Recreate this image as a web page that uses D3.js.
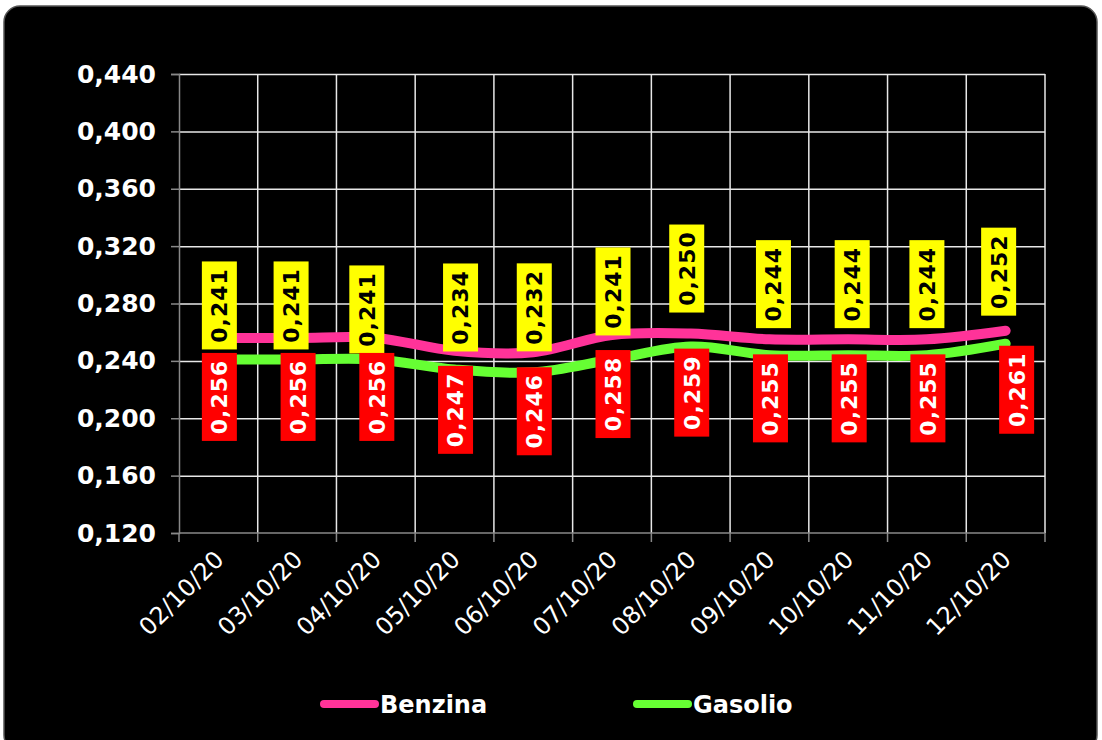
<!DOCTYPE html>
<html>
<head>
<meta charset="utf-8">
<script src="https://cdn.jsdelivr.net/npm/d3@7"></script>
<style>
  body { margin: 0; background: #fff; }
  svg { display: block; }
</style>
</head>
<body>
<script>
// values
const dates = ["02/10/20", "03/10/20", "04/10/20", "05/10/20", "06/10/20", "07/10/20",
               "08/10/20", "09/10/20", "10/10/20", "11/10/20", "12/10/20"];
const benzina = [0.256, 0.256, 0.256, 0.247, 0.246, 0.258, 0.259, 0.255, 0.255, 0.255, 0.261];
const gasolio = [0.241, 0.241, 0.241, 0.234, 0.232, 0.241, 0.250, 0.244, 0.244, 0.244, 0.252];
const yTicks = [0.120, 0.160, 0.200, 0.240, 0.280, 0.320, 0.360, 0.400, 0.440];

// hand-placed label nudges (pixels), as in the original sheet
const yellowDx = [1, -6, -9, 6, 1, 1, -4, 4, 4, 0, -7];
const yellowDy = [0, 0, 4, -8, -11, -14, -24, -17, -17, -17, -18];
const redDx = [1, 1, 1, 1, 1, 1, 1, 1, 1, 1, 11];

const width = 1102, height = 740;
const marginLeft = 179, marginRight = 57, marginTop = 74, marginBottom = 207;

const fmt = v => d3.format(".3f")(v).replace(".", ",");

const x = d3.scaleBand().domain(dates).range([marginLeft, width - marginRight]);
const y = d3.scaleLinear().domain([0.12, 0.44]).range([height - marginBottom, marginTop]);
const cx = d => x(d) + x.bandwidth() / 2;

const svg = d3.select("body").append("svg")
    .attr("width", width)
    .attr("height", height)
    .attr("viewBox", [0, 0, width, height]);

// black rounded panel
svg.append("rect")
    .attr("x", 4).attr("y", 6)
    .attr("width", 1093).attr("height", 745)
    .attr("rx", 16)
    .attr("fill", "#000")
    .attr("stroke", "#555")
    .attr("stroke-width", 1.5);

// horizontal grid
svg.append("g")
    .selectAll("line")
    .data(yTicks.slice(1))
    .join("line")
    .attr("x1", marginLeft).attr("x2", width - marginRight)
    .attr("y1", d => y(d) + 0.5).attr("y2", d => y(d) + 0.5)
    .attr("stroke", "#e8e8e8")
    .attr("stroke-width", 1.5);

// vertical grid at category boundaries
svg.append("g")
    .selectAll("line")
    .data(dates.slice(1).map(d => x(d)).concat([width - marginRight]))
    .join("line")
    .attr("x1", d => d).attr("x2", d => d)
    .attr("y1", marginTop).attr("y2", height - marginBottom)
    .attr("stroke", "#e8e8e8")
    .attr("stroke-width", 1.5);

// y axis
svg.append("g")
    .attr("transform", `translate(${marginLeft},0)`)
    .call(d3.axisLeft(y).tickValues(yTicks).tickFormat(fmt).tickSize(8).tickPadding(15))
    .call(g => g.select(".domain").attr("stroke", "#888").attr("stroke-width", 1.5))
    .call(g => g.selectAll(".tick line").attr("stroke", "#888").attr("stroke-width", 1.5))
    .call(g => g.selectAll(".tick text")
        .attr("fill", "#fff")
        .style("font", "bold 25px 'DejaVu Sans'"));

// x axis: ticks at band edges, labels at centres
const xg = svg.append("g")
    .attr("transform", `translate(0,${height - marginBottom})`);
xg.append("line")
    .attr("x1", marginLeft).attr("x2", width - marginRight)
    .attr("stroke", "#888").attr("stroke-width", 1.5);
xg.selectAll("line.tk")
    .data(dates.map(d => x(d)).concat([width - marginRight]))
    .join("line")
    .attr("class", "tk")
    .attr("x1", d => d).attr("x2", d => d)
    .attr("y1", 0).attr("y2", 9)
    .attr("stroke", "#888").attr("stroke-width", 1.5);
xg.selectAll("text")
    .data(dates)
    .join("text")
    .attr("transform", d => `translate(${cx(d) - 5},${16}) rotate(-45)`)
    .attr("text-anchor", "end")
    .attr("dy", "0.7em")
    .attr("fill", "#fff")
    .style("font", "24px 'DejaVu Sans'")
    .text(d => d);

// lines
const line = d3.line()
    .x((v, i) => cx(dates[i]))
    .y(v => y(v))
    .curve(d3.curveCatmullRom.alpha(0.5));

const series = [
    { name: "Benzina", values: benzina, color: "#ff3399" },
    { name: "Gasolio", values: gasolio, color: "#66ff33" }
];

svg.append("g")
    .selectAll("path")
    .data(series)
    .join("path")
    .attr("fill", "none")
    .attr("stroke", d => d.color)
    .attr("stroke-width", 10)
    .attr("stroke-linecap", "round")
    .attr("stroke-linejoin", "round")
    .attr("d", d => line(d.values));

// data labels
const boxW = 35, boxH = 88;

function labels(values, fill, textColor, place) {
    const g = svg.append("g")
        .selectAll("g")
        .data(values)
        .join("g")
        .attr("transform", (v, i) => {
            const [px, py] = place(v, i);
            return `translate(${px},${py})`;
        });
    g.append("rect")
        .attr("x", -boxW / 2).attr("y", -boxH / 2)
        .attr("width", boxW).attr("height", boxH)
        .attr("fill", fill);
    g.append("text")
        .attr("transform", "rotate(-90)")
        .attr("text-anchor", "middle")
        .attr("dy", "0.36em")
        .attr("fill", textColor)
        .style("font", "bold 22px 'DejaVu Sans'")
        .style("letter-spacing", "1px")
        .text(v => fmt(v));
}

// Gasolio values sit above their points in yellow
labels(gasolio, "#ffff00", "#000",
    (v, i) => [cx(dates[i]) + yellowDx[i], y(v) - 10 + yellowDy[i] - boxH / 2]);
// Benzina values sit below their points in red
labels(benzina, "#ff0000", "#fff",
    (v, i) => [cx(dates[i]) + redDx[i], y(v) + 15 + boxH / 2]);

// legend
const legendX = [321, 634];
const lg = svg.append("g")
    .selectAll("g")
    .data(series)
    .join("g")
    .attr("transform", (d, i) => `translate(${legendX[i]},704)`);
lg.append("line")
    .attr("x1", 3).attr("x2", 54)
    .attr("stroke", d => d.color)
    .attr("stroke-width", 8)
    .attr("stroke-linecap", "round");
lg.append("text")
    .attr("x", 59)
    .attr("dy", "0.36em")
    .attr("fill", "#fff")
    .style("font", "bold 24px 'DejaVu Sans'")
    .text(d => d.name);
</script>
</body>
</html>
